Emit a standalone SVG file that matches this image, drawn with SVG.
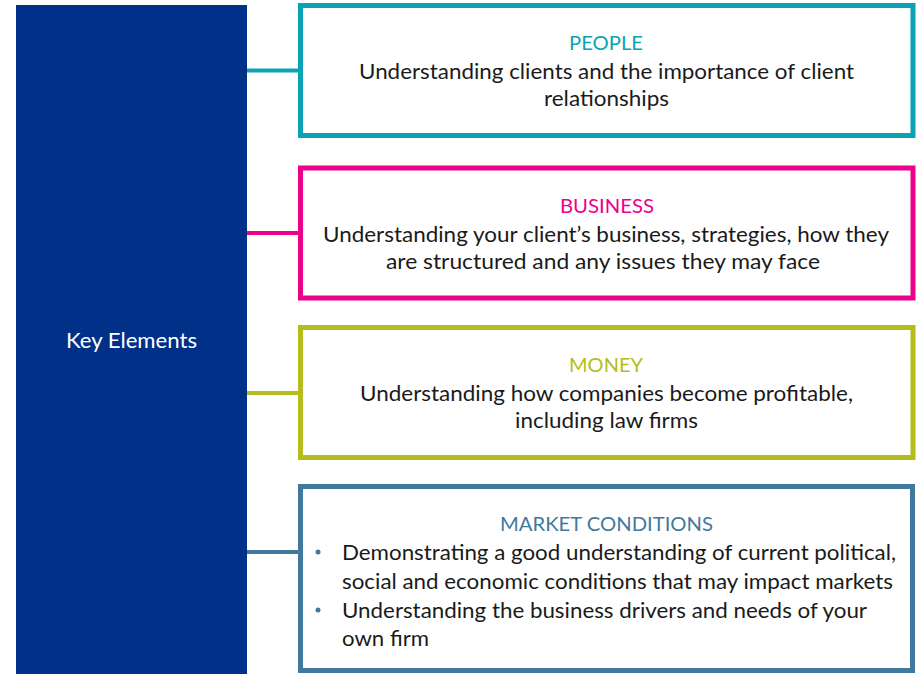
<svg xmlns="http://www.w3.org/2000/svg" width="922" height="674" viewBox="0 0 922 674">
<style>
text{font-family:Lato,"Liberation Sans",sans-serif;font-size:21px;fill:#1a1a1a}
.c{text-anchor:middle}
.t{font-size:20px}
.box{fill:#fff;stroke-width:5}
.conn{stroke-width:4;fill:none}
</style>
<rect width="922" height="674" fill="#fff"/>
<g id="key">
<rect x="16" y="5" width="231" height="669" fill="#003087"/>
<text x="131.5" y="348" class="c" style="fill:#fff" textLength="131" lengthAdjust="spacingAndGlyphs">Key Elements</text>
</g>
<g id="connectors">
<line class="conn" x1="247" y1="70.5" x2="300" y2="70.5" stroke="#0AA3B5"/>
<line class="conn" x1="247" y1="233" x2="300" y2="233" stroke="#EC008C"/>
<line class="conn" x1="247" y1="393" x2="300" y2="393" stroke="#B5BD1A"/>
<line class="conn" x1="247" y1="552" x2="300" y2="552" stroke="#41799C"/>
</g>
<g id="people">
<rect class="box" x="300.5" y="5.5" width="612.5" height="130" stroke="#0AA3B5"/>
<text x="606" y="50" class="c t" style="fill:#0AA3B5" textLength="74" lengthAdjust="spacingAndGlyphs">PEOPLE</text>
<text x="606.5" y="79" class="c" textLength="495" lengthAdjust="spacingAndGlyphs">Understanding clients and the importance of client</text>
<text x="606.5" y="106" class="c" textLength="125" lengthAdjust="spacingAndGlyphs">relationships</text>
</g>
<g id="business">
<rect class="box" x="300.5" y="168" width="612.5" height="130" stroke="#EC008C"/>
<text x="607" y="213" class="c t" style="fill:#EC008C" textLength="94" lengthAdjust="spacingAndGlyphs">BUSINESS</text>
<text x="606" y="242" class="c" textLength="566" lengthAdjust="spacingAndGlyphs">Understanding your client’s business, strategies, how they</text>
<text x="603" y="269" class="c" textLength="434" lengthAdjust="spacingAndGlyphs">are structured and any issues they may face</text>
</g>
<g id="money">
<rect class="box" x="300.5" y="327.5" width="612.5" height="130" stroke="#B5BD1A"/>
<text x="606" y="372" class="c t" style="fill:#B5BD1A">MONEY</text>
<text x="606.5" y="401" class="c" textLength="493" lengthAdjust="spacingAndGlyphs">Understanding how companies become profitable,</text>
<text x="606.5" y="428" class="c" textLength="183" lengthAdjust="spacingAndGlyphs">including law firms</text>
</g>
<g id="market">
<rect class="box" x="300.5" y="486.5" width="612" height="184" stroke="#41799C"/>
<text x="606.5" y="531" class="c t" style="fill:#41799C" textLength="213" lengthAdjust="spacingAndGlyphs">MARKET CONDITIONS</text>
<circle cx="318" cy="552" r="2.5" fill="#41799C"/>
<circle cx="318" cy="610" r="2.5" fill="#41799C"/>
<text x="342" y="560" textLength="554" lengthAdjust="spacingAndGlyphs">Demonstrating a good understanding of current political,</text>
<text x="342" y="589" textLength="551" lengthAdjust="spacingAndGlyphs">social and economic conditions that may impact markets</text>
<text x="342" y="618" textLength="525" lengthAdjust="spacingAndGlyphs">Understanding the business drivers and needs of your</text>
<text x="342" y="646" textLength="87" lengthAdjust="spacingAndGlyphs">own firm</text>
</g>
</svg>
